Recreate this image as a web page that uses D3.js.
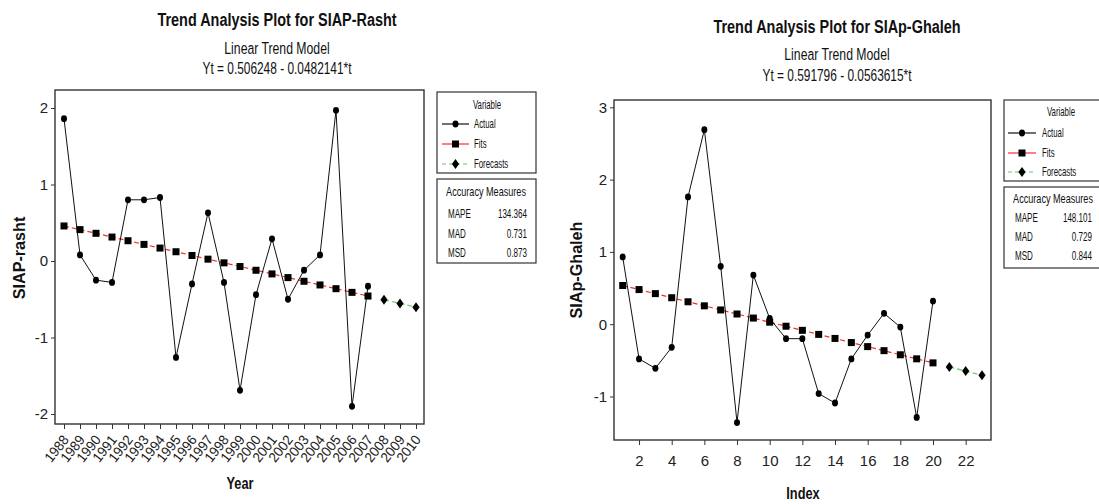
<!DOCTYPE html>
<html><head><meta charset="utf-8">
<script src="https://cdn.jsdelivr.net/npm/d3@7"></script>
<style>body{margin:0;background:#fff}svg{display:block}</style>
</head><body>
<svg id="c" width="1099" height="504"></svg>
<script>
// ---------------- DATA ----------------
const rashtYears = ["1988","1989","1990","1991","1992","1993","1994","1995","1996","1997","1998","1999","2000","2001","2002","2003","2004","2005","2006","2007","2008","2009","2010"];
const rashtActual = [1.86,0.08,-0.25,-0.28,0.80,0.80,0.83,-1.26,-0.30,0.63,-0.28,-1.69,-0.44,0.29,-0.50,-0.12,0.08,1.97,-1.90,-0.33];
const rashtFits = [0.458,0.410,0.362,0.313,0.265,0.217,0.169,0.121,0.072,0.024,-0.024,-0.072,-0.121,-0.169,-0.217,-0.265,-0.313,-0.362,-0.410,-0.458];
const rashtForecasts = [-0.506,-0.554,-0.603];
const rashtYTicks = [-2,-1,0,1,2];
const rashtAccuracy = ["134.364","0.731","0.873"];

const ghalehIndex = [1,2,3,4,5,6,7,8,9,10,11,12,13,14,15,16,17,18,19,20,21,22,23];
const ghalehActual = [0.93,-0.48,-0.61,-0.32,1.76,2.69,0.80,-1.36,0.68,0.08,-0.20,-0.20,-0.96,-1.09,-0.48,-0.15,0.15,-0.04,-1.29,0.32];
const ghalehFits = [0.535,0.479,0.423,0.366,0.310,0.254,0.197,0.141,0.085,0.028,-0.028,-0.085,-0.141,-0.197,-0.254,-0.310,-0.366,-0.423,-0.479,-0.535];
const ghalehForecasts = [-0.592,-0.648,-0.705];
const ghalehXTicks = [2,4,6,8,10,12,14,16,18,20,22];
const ghalehYTicks = [-1,0,1,2,3];
const ghalehAccuracy = ["148.101","0.729","0.844"];

const legendTitle = "Variable";
const legendLabels = ["Actual","Fits","Forecasts"];
const accuracyTitle = "Accuracy Measures";
const accuracyLabels = ["MAPE","MAD","MSD"];

// ---------------- DRAW ----------------
const svg = d3.select("#c");
const FONT = "'Liberation Sans', Arial, sans-serif";
const C_ACT = "#111", C_FIT = "#ff2a2a", C_FC = "#6cc46c";

// condensed text via horizontal scaling transform
function stext(g, x, y, str, size, weight, sx, anchor, rot) {
  return g.append("text")
    .attr("transform", `translate(${x},${y})${rot ? ` rotate(${rot})` : ""} scale(${sx},1)`)
    .attr("text-anchor", anchor || "middle")
    .attr("font-family", FONT).attr("font-size", size).attr("font-weight", weight || "normal")
    .attr("fill", "#111").text(str);
}
const diamond = "M0,-5L3.6,0L0,5L-3.6,0Z";
function marker(g, kind, x, y) {
  if (kind === 0) g.append("ellipse").attr("cx", x).attr("cy", y).attr("rx", 3).attr("ry", 3.4).attr("fill", "#000");
  else if (kind === 1) g.append("rect").attr("x", x-3.5).attr("y", y-3.5).attr("width", 7).attr("height", 7).attr("fill", "#000");
  else g.append("path").attr("d", diamond).attr("transform", `translate(${x},${y})`).attr("fill", "#000");
}

function drawChart(cfg) {
  const g = svg.append("g");
  const { frame, x, y, xs, actual, fits, forecasts } = cfg;
  // titles
  stext(g, cfg.cx, cfg.tY[0], cfg.title, 19, "bold", 0.76);
  stext(g, cfg.cx, cfg.tY[1], "Linear Trend Model", 17, "normal", 0.72);
  stext(g, cfg.cx, cfg.tY[2], cfg.eq, 17, "normal", 0.70);

  // y axis
  const ya = g.append("g").attr("transform", `translate(${frame.x0},0)`)
    .call(d3.axisLeft(y).tickValues(cfg.yTicks).tickSize(4).tickPadding(3).tickFormat(d => String(d)));
  ya.select(".domain").remove();
  ya.selectAll("text").attr("font-family", FONT).attr("font-size", 15).attr("fill", "#222");
  ya.selectAll("line").attr("stroke", "#333");

  // x axis
  const xa = g.append("g").attr("transform", `translate(0,${frame.y1})`).call(cfg.xAxis);
  xa.select(".domain").remove();
  xa.selectAll("line").attr("stroke", "#333");
  xa.selectAll("text").attr("font-family", FONT).attr("fill", "#222");
  cfg.styleX(xa);

  // frame
  g.append("rect").attr("x", frame.x0).attr("y", frame.y0)
    .attr("width", frame.x1 - frame.x0).attr("height", frame.y1 - frame.y0)
    .attr("fill", "none").attr("stroke", "#333").attr("stroke-width", 1.4);

  // axis titles
  stext(g, cfg.yTitle[0], cfg.yTitle[1], cfg.yLabel, 17, "bold", cfg.yTitleF, "middle", -90);
  stext(g, cfg.xTitle[0], cfg.xTitle[1], cfg.xLabel, 16, "bold", 0.8);

  // lines
  const n = actual.length;
  const line = d3.line().x(d => x(xs[d[0]])).y(d => y(d[1]));
  g.append("path").attr("d", line(fits.map((v,i)=>[i,v]))).attr("fill","none")
    .attr("stroke", C_FIT).attr("stroke-width", 1.2).attr("stroke-dasharray", "5,3");
  g.append("path").attr("d", line(forecasts.map((v,i)=>[n+i,v]))).attr("fill","none")
    .attr("stroke", C_FC).attr("stroke-width", 1.2).attr("stroke-dasharray", "5,3");
  g.append("path").attr("d", line(actual.map((v,i)=>[i,v]))).attr("fill","none")
    .attr("stroke", C_ACT).attr("stroke-width", 1);
  fits.forEach((v,i) => marker(g, 1, x(xs[i]), y(v)));
  forecasts.forEach((v,i) => marker(g, 2, x(xs[n+i]), y(v)));
  actual.forEach((v,i) => marker(g, 0, x(xs[i]), y(v)));

  // legend
  const L = cfg.legend;
  g.append("rect").attr("x", L.x0).attr("y", L.y0).attr("width", L.x1-L.x0).attr("height", L.y1-L.y0)
    .attr("fill","#fff").attr("stroke","#333").attr("stroke-width",1.2);
  stext(g, L.tcx, L.rows[0]+4, legendTitle, 13, "normal", 0.6);
  const cols = [C_ACT, C_FIT, C_FC];
  legendLabels.forEach((lab, i) => {
    const yy = L.rows[i+1];
    g.append("line").attr("x1", L.lx0).attr("x2", L.lx1).attr("y1", yy).attr("y2", yy)
      .attr("stroke", cols[i]).attr("stroke-width", 1.2).attr("stroke-dasharray", i === 2 ? "4,3" : null);
    marker(g, i, (L.lx0+L.lx1)/2, yy);
    stext(g, L.tx, yy+4, lab, 13, "normal", 0.6, "start");
  });
  const A = cfg.acc;
  g.append("rect").attr("x", A.x0).attr("y", A.y0).attr("width", A.x1-A.x0).attr("height", A.y1-A.y0)
    .attr("fill","#fff").attr("stroke","#333").attr("stroke-width",1.2);
  stext(g, A.tcx, A.rows[0]+4, accuracyTitle, 13, "normal", 0.7);
  accuracyLabels.forEach((lab, i) => {
    const yy = A.rows[i+1] + 4;
    stext(g, A.lx, yy, lab, 13, "normal", 0.62, "start");
    stext(g, A.vx, yy, cfg.accuracy[i], 13, "normal", 0.62, "end");
  });
}

// Left chart: SIAP-Rasht
const xR = d3.scalePoint().domain(rashtYears).range([64, 416]);
const yR = d3.scaleLinear().domain([-2, 2]).range([414, 108]);
drawChart({
  title: "Trend Analysis Plot for SIAP-Rasht", eq: "Yt = 0.506248 - 0.0482141*t",
  cx: 277, tY: [26, 54, 74],
  frame: { x0: 55, y0: 90, x1: 424, y1: 424 },
  x: xR, y: yR, xs: rashtYears,
  actual: rashtActual, fits: rashtFits, forecasts: rashtForecasts,
  yTicks: rashtYTicks,
  xAxis: d3.axisBottom(xR).tickSize(5).tickPadding(2),
  styleX: (xa) => {
    xa.selectAll("text").attr("font-size", 14).attr("text-anchor", "end")
      .attr("x", 0).attr("y", 0).attr("dy", 0)
      .attr("transform", "translate(5,16) rotate(-52) scale(0.95,1)");
  },
  yLabel: "SIAP-rasht", yTitle: [25, 258], yTitleF: 0.95,
  xLabel: "Year", xTitle: [240, 489],
  legend: { x0: 437, y0: 92, x1: 536, y1: 173, tcx: 487, rows: [105, 124, 144, 164], lx0: 442, lx1: 469, tx: 474 },
  acc: { x0: 437, y0: 179, x1: 536, y1: 263, tcx: 486, rows: [192, 214, 234, 253], lx: 448, vx: 527 },
  accuracy: rashtAccuracy
});

// Right chart: SIAp-Ghaleh
const xG = d3.scaleLinear().domain([1, 23]).range([622.7, 982]);
const yG = d3.scaleLinear().domain([-1, 3]).range([396.5, 107.3]);
drawChart({
  title: "Trend Analysis Plot for SIAp-Ghaleh", eq: "Yt = 0.591796 - 0.0563615*t",
  cx: 837, tY: [33, 60, 81],
  frame: { x0: 614, y0: 100, x1: 991, y1: 440 },
  x: xG, y: yG, xs: ghalehIndex,
  actual: ghalehActual, fits: ghalehFits, forecasts: ghalehForecasts,
  yTicks: ghalehYTicks,
  xAxis: d3.axisBottom(xG).tickValues(ghalehXTicks).tickSize(5).tickPadding(10).tickFormat(d => String(d)),
  styleX: (xa) => { xa.selectAll("text").attr("font-size", 15); },
  yLabel: "SIAp-Ghaleh", yTitle: [582, 270], yTitleF: 0.95,
  xLabel: "Index", xTitle: [803, 499],
  legend: { x0: 1004, y0: 100, x1: 1104, y1: 181, tcx: 1061, rows: [112, 133, 153, 172], lx0: 1008, lx1: 1036, tx: 1042 },
  acc: { x0: 1004, y0: 187, x1: 1104, y1: 268, tcx: 1053, rows: [199, 218, 237, 256], lx: 1015, vx: 1092 },
  accuracy: ghalehAccuracy
});
</script>
</body></html>
